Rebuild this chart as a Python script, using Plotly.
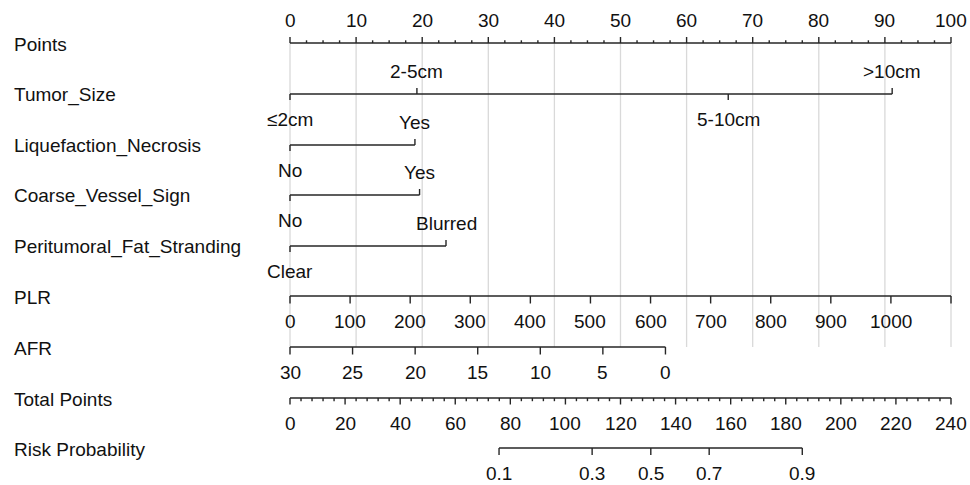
import plotly.graph_objects as go

# ---------------- data ----------------
var_names = ["Points", "Tumor_Size", "Liquefaction_Necrosis", "Coarse_Vessel_Sign",
             "Peritumoral_Fat_Stranding", "PLR", "AFR", "Total Points", "Risk Probability"]

points_ticks = [0, 10, 20, 30, 40, 50, 60, 70, 80, 90, 100]
points_minor_step = 2.5

tumor_levels = ["≤2cm", "2-5cm", "5-10cm", ">10cm"]
tumor_points = [0, 19.2, 66.3, 91.1]
tumor_side = ["below", "above", "below", "above"]

liq_levels = ["No", "Yes"]
liq_points = [0, 18.9]

coarse_levels = ["No", "Yes"]
coarse_points = [0, 19.6]

fat_levels = ["Clear", "Blurred"]
fat_points = [0, 23.6]

plr_values = [0, 100, 200, 300, 400, 500, 600, 700, 800, 900, 1000, 1100]
plr_labels = ["0", "100", "200", "300", "400", "500", "600", "700", "800", "900", "1000", ""]
plr_max_value = 1100
plr_max_points = 100

afr_values = [30, 25, 20, 15, 10, 5, 0]
afr_max_points = 56.8

total_ticks = [0, 20, 40, 60, 80, 100, 120, 140, 160, 180, 200, 220, 240]
total_minor_step = 4
total_max = 240

risk_labels = ["0.1", "0.3", "0.5", "0.7", "0.9"]
risk_total = [75.9, 109.7, 131.0, 152.2, 186.0]

# ---------------- layout constants ----------------
W, H = 970, 485
X0, X100 = 290, 951
PX = (X100 - X0) / 100.0
row_y = [43, 94, 145, 195, 246, 296, 347, 398, 448]
FONT = "Liberation Sans, Arial, sans-serif"
FS = 19
LC = "#262626"
LW = 1.4
ABOVE, BELOW = -23, 25.5

fig = go.Figure()
ann = []


def add_line(xs, ys, color=LC, width=LW):
    fig.add_trace(go.Scatter(x=xs, y=ys, mode="lines", line=dict(color=color, width=width),
                             hoverinfo="skip", showlegend=False))


def label(x, y, text):
    ann.append(dict(x=x, y=y, text=text, showarrow=False, xanchor="center", yanchor="middle",
                    font=dict(family=FONT, size=FS, color="#111111")))


# grid lines
gx, gy = [], []
for t in points_ticks:
    gx += [t, t, None]
    gy += [row_y[0], row_y[6], None]
add_line(gx, gy, color="#d9d9d9", width=1.3)

# Points axis (ticks up, labels above)
y = row_y[0]
xs, ys = [0, 100, None], [y, y, None]
n = int(100 / points_minor_step)
for i in range(n + 1):
    v = i * points_minor_step
    major = abs(v % 10) < 1e-9
    xs += [v, v, None]
    ys += [y, y - (6 if major else 2.7), None]
add_line(xs, ys)
for t in points_ticks:
    label(t, y + ABOVE, str(t))


def categorical(row, levels, pts, sides):
    y = row_y[row]
    xs, ys = [min(pts), max(pts), None], [y, y, None]
    for lv, p, s in zip(levels, pts, sides):
        d = -6 if s == "above" else 6
        xs += [p, p, None]
        ys += [y, y + d, None]
        label(p, y + (ABOVE if s == "above" else BELOW), lv)
    add_line(xs, ys)


categorical(1, tumor_levels, tumor_points, tumor_side)
categorical(2, liq_levels, liq_points, ["below", "above"])
categorical(3, coarse_levels, coarse_points, ["below", "above"])
categorical(4, fat_levels, fat_points, ["below", "above"])


def numeric(row, pts, labels, tick=7.5):
    y = row_y[row]
    xs, ys = [min(pts), max(pts), None], [y, y, None]
    for p, lb in zip(pts, labels):
        xs += [p, p, None]
        ys += [y, y + tick, None]
        if lb:
            label(p, y + BELOW, lb)
    add_line(xs, ys)


numeric(5, [v / plr_max_value * plr_max_points for v in plr_values], plr_labels)
numeric(6, [(30 - v) / 30 * afr_max_points for v in afr_values], [str(v) for v in afr_values])

# Total points (ticks down)
y = row_y[7]
xs, ys = [0, 100, None], [y, y, None]
for i in range(int(total_max / total_minor_step) + 1):
    v = i * total_minor_step
    major = v % 20 == 0
    xs += [v * 100 / total_max] * 2 + [None]
    ys += [y, y + (6.5 if major else 3.2), None]
add_line(xs, ys)
for t in total_ticks:
    label(t * 100 / total_max, y + BELOW, str(t))

# Risk probability
numeric(8, [t * 100 / total_max for t in risk_total], risk_labels, tick=7)

# variable names
for name, yy in zip(var_names, row_y):
    ann.append(dict(x=12 / W, xref="paper", y=yy + 1, text=name, showarrow=False,
                    xanchor="left", yanchor="middle",
                    font=dict(family=FONT, size=FS, color="#111111")))

fig.update_layout(
    width=W, height=H, margin=dict(l=0, r=0, t=0, b=0),
    paper_bgcolor="white", plot_bgcolor="white",
    xaxis=dict(range=[-X0 / PX, (W - X0) / PX], visible=False, fixedrange=True),
    yaxis=dict(range=[H, 0], visible=False, fixedrange=True),
    annotations=ann, showlegend=False,
)
fig.write_html("out.html", config={"displayModeBar": False},
               post_script="document.body.style.margin='0';document.body.style.overflow='hidden';")
